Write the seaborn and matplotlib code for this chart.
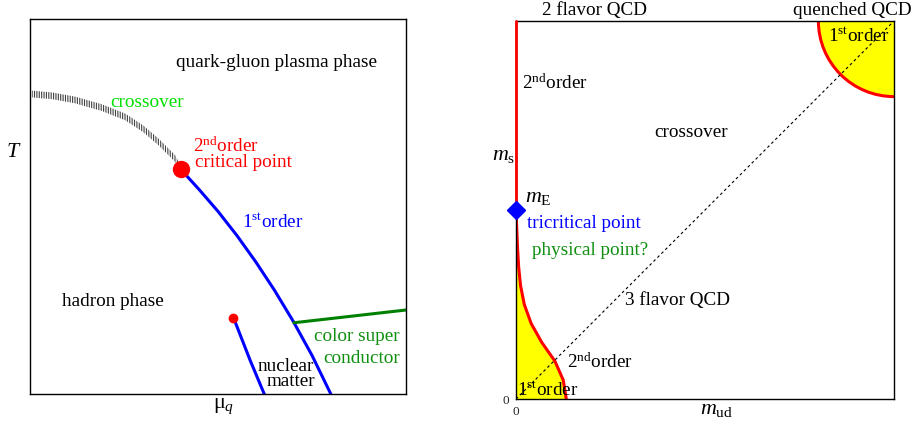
import numpy as np
import pandas as pd
import matplotlib
matplotlib.use("Agg")
import matplotlib.pyplot as plt
from matplotlib.patches import Wedge, Arc
import seaborn as sns

# ---- left panel: QCD phase diagram in (mu_q, T), axes scaled 0..1 ----
crossover_mu = [0.005, 0.06, 0.12, 0.19, 0.253, 0.30, 0.341, 0.386, 0.401]
crossover_T = [0.800, 0.795, 0.784, 0.764, 0.739, 0.708, 0.673, 0.628, 0.599]

first_order_mu = [0.401, 0.45, 0.50, 0.55, 0.60, 0.65, 0.70, 0.75, 0.80]
first_order_T = [0.599, 0.545, 0.487, 0.423, 0.353, 0.277, 0.194, 0.103, 0.0]

csc_mu = [0.702, 1.0]
csc_T = [0.190, 0.224]

nuclear_mu = [0.541, 0.585, 0.623]
nuclear_T = [0.204, 0.091, 0.0]

critical_point = (0.401, 0.599)
nuclear_point = (0.541, 0.204)

# ---- right panel: Columbia plot (m_ud, m_s), axes scaled 0..1 ----
tricritical_ms = 0.5
lower_boundary_ms = [0.50, 0.45, 0.40, 0.35, 0.30, 0.25, 0.20, 0.15, 0.10, 0.05, 0.0]
lower_boundary_mud = [0.0, 0.002, 0.004, 0.007, 0.012, 0.022, 0.040, 0.068, 0.103, 0.125, 0.133]
quenched_center = (1.0, 1.0)
quenched_radius = 0.2
diag = [0.0, 1.0]

sns.set_theme(style="white")
plt.rcParams['font.family'] = ['Liberation Serif', 'DejaVu Serif']
plt.rcParams['mathtext.fontset'] = 'custom'
plt.rcParams['mathtext.rm'] = 'Liberation Serif'
plt.rcParams['mathtext.it'] = 'Liberation Serif:italic'
plt.rcParams['mathtext.bf'] = 'Liberation Serif:bold'
plt.rcParams['hatch.linewidth'] = 0.8

fs = 13.8
green = '#0e8f0e'

fig = plt.figure(figsize=(9.15, 4.28), dpi=100)
ax1 = fig.add_axes([30/915, 34/428, 376/915, 375/428])
ax2 = fig.add_axes([516/915, 29/428, 378/915, 378/428])

for ax in (ax1, ax2):
    ax.set_xlim(0, 1)
    ax.set_ylim(0, 1)
    for s in ax.spines.values():
        s.set_color('black')
        s.set_linewidth(1.0)

# left panel
ax1.set_xticks([])
ax1.set_yticks([])
band = 0.009
ax1.fill_between(crossover_mu, np.array(crossover_T) - band, np.array(crossover_T) + band,
                 facecolor='none', edgecolor='0.25', hatch='|' * 7, linewidth=0)
sns.lineplot(x=first_order_mu, y=first_order_T, sort=False, estimator=None,
             color='#0000ff', linewidth=2.2, ax=ax1)
sns.lineplot(x=csc_mu, y=csc_T, sort=False, estimator=None,
             color='#008000', linewidth=2.2, ax=ax1)
sns.lineplot(x=nuclear_mu, y=nuclear_T, sort=False, estimator=None,
             color='#0000ff', linewidth=2.2, ax=ax1)
ax1.plot(*critical_point, 'o', color='#ff0000', markersize=11.5, zorder=5)
ax1.plot(*nuclear_point, 'o', color='#ff0000', markersize=6, zorder=5)

ax1.text(0.388, 0.872, "quark-gluon plasma phase", fontsize=fs, color='black')
ax1.text(0.213, 0.766, "crossover", fontsize=fs, color='#00e000')
ax1.text(0.434, 0.646, r"2$^{\rm nd}$order", fontsize=fs, color='#ff0000')
ax1.text(0.439, 0.605, "critical point", fontsize=fs, color='#ff0000')
ax1.text(0.565, 0.446, r"1$^{\rm st}$order", fontsize=fs, color='#0000ff')
ax1.text(0.084, 0.235, "hadron phase", fontsize=fs, color='black')
ax1.text(0.755, 0.142, "color super", fontsize=fs, color=green)
ax1.text(0.780, 0.082, "conductor", fontsize=fs, color=green)
ax1.text(0.605, 0.062, "nuclear", fontsize=fs, color='black')
ax1.text(0.628, 0.021, "matter", fontsize=fs, color='black')
ax1.text(-0.063, 0.632, r"$T$", fontsize=fs + 2, color='black')
ax1.text(0.486, -0.006, r"$\mathrm{\mu}_{q}$", fontsize=fs + 2, color='black', va='top')

# right panel
ax2.set_xticks([0])
ax2.set_yticks([0])
ax2.set_xticklabels(["0"], fontsize=9.5)
ax2.set_yticklabels(["0"], fontsize=9.5)
ax2.tick_params(length=0, pad=5)

ax2.fill_betweenx(lower_boundary_ms, 0, lower_boundary_mud, color='#ffff00', linewidth=0)
sns.lineplot(x=lower_boundary_mud, y=lower_boundary_ms, sort=False, estimator=None,
             color='#ff0000', linewidth=2.2, ax=ax2)
ax2.plot([0, 0], [tricritical_ms, 1], color='#ff0000', linewidth=2.0, clip_on=False, zorder=3)
ax2.add_patch(Wedge(quenched_center, quenched_radius, 180, 270,
                    facecolor='#ffff00', edgecolor='none'))
ax2.add_patch(Arc(quenched_center, 2 * quenched_radius, 2 * quenched_radius,
                  theta1=180, theta2=270, color='#ff0000', linewidth=2.2))
sns.lineplot(x=diag, y=diag, sort=False, estimator=None, color='black',
             linewidth=0.8, linestyle=(0, (2.5, 2.5)), ax=ax2)
ax2.plot(0, tricritical_ms, 'D', color='#0000ff', markersize=9.5, clip_on=False, zorder=6)

ax2.text(0.068, 1.016, "2 flavor QCD", fontsize=fs, color='black')
ax2.text(1.047, 1.016, "quenched QCD", fontsize=fs, color='black', ha='right')
ax2.text(0.825, 0.948, r"1$^{\rm st}$order", fontsize=fs, color='black')
ax2.text(0.015, 0.819, r"2$^{\rm nd}$order", fontsize=fs, color='black')
ax2.text(0.365, 0.692, "crossover", fontsize=fs, color='black')
ax2.text(-0.064, 0.632, r"$m_{\rm s}$", fontsize=fs + 2, color='black')
ax2.text(0.024, 0.522, r"$m_{\rm E}$", fontsize=fs + 2, color='black')
ax2.text(0.028, 0.452, "tricritical point", fontsize=fs, color='#0000ff')
ax2.text(0.042, 0.381, "physical point?", fontsize=fs, color=green)
ax2.text(0.288, 0.249, "3 flavor QCD", fontsize=fs, color='black')
ax2.text(0.134, 0.081, r"2$^{\rm nd}$order", fontsize=fs, color='black')
ax2.text(0.002, 0.011, r"1$^{\rm st}$order", fontsize=fs, color='black')
ax2.text(0.487, -0.003, r"$m_{\rm ud}$", fontsize=fs + 2, color='black', va='top')

fig.savefig("out.png", dpi=100)
